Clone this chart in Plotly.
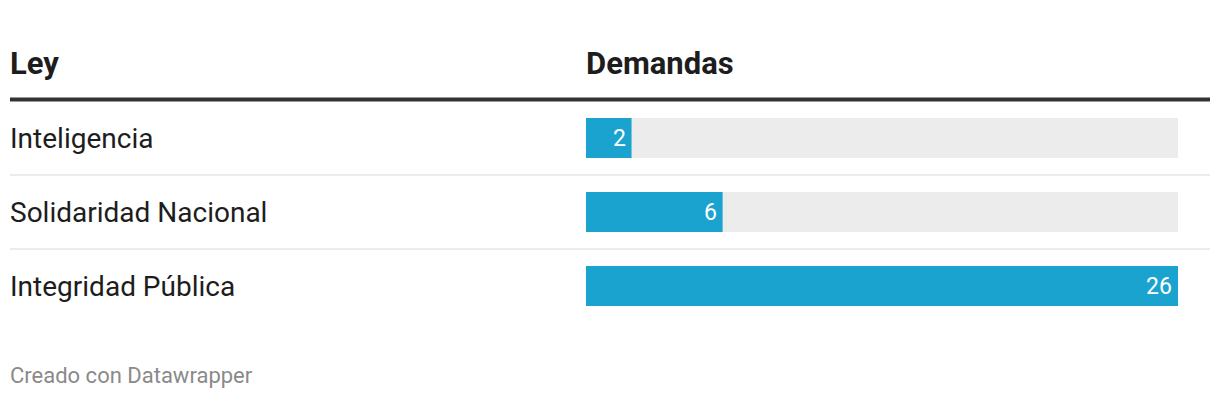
import plotly.graph_objects as go

categories = ["Inteligencia", "Solidaridad Nacional", "Integridad Pública"]
values = [2, 6, 26]
max_value = 26
header_left = "Ley"
header_right = "Demandas"
footer = "Creado con Datawrapper"

W, H = 1220, 398
OFF = 8  # page body margin
BAR = "#1aa3cf"
TRACK = "#ececec"
TEXT = "#1d1d1d"


def px(p):
    return (p - OFF) / W


def py(p):
    return 1 - (p - OFF) / H


x0 = px(586)
x1 = px(1178)
ytop = py(101)
ybot = py(323)

fig = go.Figure()
fig.add_trace(go.Bar(
    y=categories, x=[max_value] * len(categories), orientation="h",
    marker=dict(color=TRACK, line=dict(width=0)), hoverinfo="skip", showlegend=False,
))
fig.add_trace(go.Bar(
    y=categories, x=values, orientation="h",
    marker=dict(color=BAR, line=dict(width=0)), showlegend=False,
))

# value labels inside bars
for c, v in zip(categories, values):
    fig.add_annotation(x=v, y=c, xref="x", yref="y", text=str(v), showarrow=False,
                       xanchor="right", xshift=-4, yshift=0,
                       font=dict(family="Roboto", size=23, color="white"))

# row labels
for c in categories:
    fig.add_annotation(x=px(10), y=c, xref="paper", yref="y", text=c, showarrow=False,
                       xanchor="left", xshift=-2, font=dict(family="Roboto", size=28, color=TEXT))

# headers
fig.add_annotation(x=px(10), y=py(64), xref="paper", yref="paper", text="<b>" + header_left + "</b>",
                   showarrow=False, xanchor="left", yanchor="middle", xshift=-2,
                   font=dict(family="Roboto", size=31, color=TEXT))
fig.add_annotation(x=x0, y=py(64), xref="paper", yref="paper", text="<b>" + header_right + "</b>",
                   showarrow=False, xanchor="left", yanchor="middle", xshift=-2,
                   font=dict(family="Roboto", size=31, color=TEXT))

# footer
fig.add_annotation(x=px(10), y=py(375), xref="paper", yref="paper", text=footer,
                   showarrow=False, xanchor="left", yanchor="middle", xshift=-2,
                   font=dict(family="Roboto", size=22, color="#8a8a8a"))

# header rule
fig.add_shape(type="line", xref="paper", yref="paper", x0=px(10), x1=px(1210),
              y0=py(99.5), y1=py(99.5), line=dict(color="#333333", width=4))
# row separators (category boundaries)
for i in range(len(categories) - 1):
    fig.add_shape(type="line", xref="paper", yref="y", x0=px(10), x1=px(1210),
                  y0=i + 0.5, y1=i + 0.5, line=dict(color="#e6e6e6", width=1.5))

fig.update_layout(
    width=W, height=H, margin=dict(l=0, r=0, t=0, b=0),
    paper_bgcolor="white", plot_bgcolor="white",
    barmode="overlay", bargap=0.46,
    xaxis=dict(domain=[x0, x1], range=[0, max_value], visible=False, fixedrange=True),
    yaxis=dict(domain=[ybot, ytop], type="category", categoryorder="array",
               categoryarray=categories, autorange="reversed", visible=False, fixedrange=True,
               range=[len(categories) - 0.5, -0.5]),
    font=dict(family="Roboto"),
)

fig.write_html("out.html", config={"displayModeBar": False})
